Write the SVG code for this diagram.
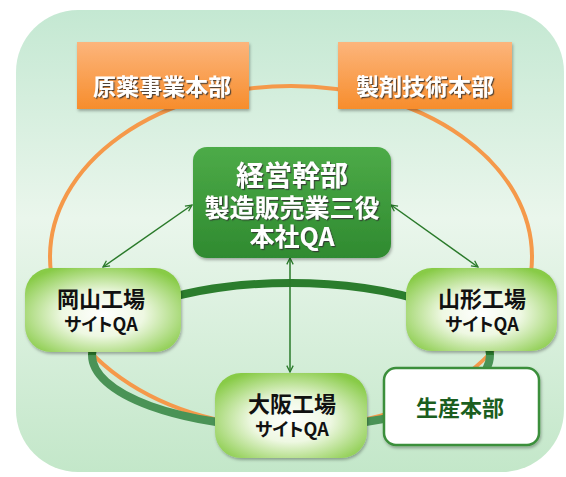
<svg xmlns="http://www.w3.org/2000/svg" width="566" height="477" viewBox="0 0 566 477">
<defs>
  <linearGradient id="bg" x1="0" y1="0" x2="0" y2="1">
    <stop offset="0" stop-color="#c4e8d2"/>
    <stop offset="0.45" stop-color="#eaf6ec"/>
    <stop offset="1" stop-color="#c3e7c9"/>
  </linearGradient>
  <linearGradient id="org" x1="0" y1="0" x2="0" y2="1">
    <stop offset="0" stop-color="#fcb57c"/>
    <stop offset="1" stop-color="#f78d2c"/>
  </linearGradient>
  <linearGradient id="grn" x1="0" y1="0" x2="0" y2="1">
    <stop offset="0" stop-color="#4dab48"/>
    <stop offset="1" stop-color="#2f8a30"/>
  </linearGradient>
  <radialGradient id="fac" cx="0.5" cy="0.55" r="0.62">
    <stop offset="0" stop-color="#ffffff"/>
    <stop offset="0.42" stop-color="#eef8e2"/>
    <stop offset="1" stop-color="#88cb47"/>
  </radialGradient>
  <filter id="sh" x="-10%" y="-10%" width="130%" height="140%">
    <feDropShadow dx="1" dy="2" stdDeviation="1.5" flood-color="#000" flood-opacity="0.3"/>
  </filter>
  <filter id="tsh" x="-10%" y="-20%" width="130%" height="150%">
    <feDropShadow dx="1.2" dy="1.2" stdDeviation="0.6" flood-color="#333" flood-opacity="0.85"/>
  </filter>
  <marker id="ah" viewBox="0 0 10 10" refX="9" refY="5" markerWidth="8" markerHeight="8" markerUnits="userSpaceOnUse" orient="auto-start-reverse">
    <path d="M1,1 L9,5 L1,9" fill="none" stroke="#2a7a2a" stroke-width="1.6"/>
  </marker>
  <style>
    text { font-family: "Noto Sans CJK JP", "Noto Sans", sans-serif; font-weight: bold; text-anchor: middle; font-feature-settings: "palt"; }
    .ot { fill: #fff; font-size: 23px; filter: url(#tsh); }
    .ct { fill: #fff; filter: url(#tsh); }
    .ft { fill: #111; font-size: 22px; }
    .fs { fill: #111; font-size: 18px; }
    .arr { stroke: #2a7a2a; stroke-width: 1.5; fill: none; marker-start: url(#ah); marker-end: url(#ah); }
  </style>
</defs>

<rect id="background" x="16" y="10" width="548" height="462" rx="62" fill="url(#bg)"/>

<g id="connectors">
  <ellipse cx="291" cy="257" rx="241" ry="171" fill="none" stroke="#f5994a" stroke-width="4"/>
  <path d="M92,355 A199,72 0 0 1 490,355" fill="none" stroke="#2b7d2d" stroke-width="8"/>
  <path d="M92,355 A199,72 0 0 0 490,355" fill="none" stroke="#4a9356" stroke-width="8"/>
  <line class="arr" x1="192" y1="205" x2="103" y2="267"/>
  <line class="arr" x1="391" y1="205" x2="478" y2="267"/>
  <line class="arr" x1="290" y1="258" x2="290" y2="372"/>
</g>

<g id="genyaku">
  <rect x="77" y="42" width="172" height="67" fill="url(#org)" filter="url(#sh)"/>
  <text class="ot" x="162" y="95">原薬事業本部</text>
</g>
<g id="seizai">
  <rect x="338" y="42" width="174" height="67" fill="url(#org)" filter="url(#sh)"/>
  <text class="ot" x="425" y="95">製剤技術本部</text>
</g>
<g id="keiei">
  <rect x="193" y="147" width="198" height="111" rx="14" fill="url(#grn)" filter="url(#sh)"/>
  <text class="ct" x="292" y="186" font-size="28">経営幹部</text>
  <text class="ct" x="292" y="217" font-size="25">製造販売業三役</text>
  <text class="ct" x="292" y="246" font-size="25">本社QA</text>
</g>
<g id="okayama">
  <rect x="25" y="268" width="156" height="84" rx="26" fill="url(#fac)" filter="url(#sh)"/>
  <text class="ft" x="101" y="307">岡山工場</text>
  <text class="fs" x="101" y="331">サイトQA</text>
</g>
<g id="yamagata">
  <rect x="406" y="268" width="151" height="83" rx="26" fill="url(#fac)" filter="url(#sh)"/>
  <text class="ft" x="482" y="307">山形工場</text>
  <text class="fs" x="482" y="331">サイトQA</text>
</g>
<g id="osaka">
  <rect x="215" y="373" width="152" height="85" rx="26" fill="url(#fac)" filter="url(#sh)"/>
  <text class="ft" x="292" y="412">大阪工場</text>
  <text class="fs" x="292" y="436">サイトQA</text>
</g>
<g id="seisan">
  <rect x="384" y="368" width="155" height="77" rx="12" fill="#fff" stroke="#3b8f3b" stroke-width="2.5" filter="url(#sh)"/>
  <text class="ft" x="460" y="416" style="fill:#1b5e20">生産本部</text>
</g>
</svg>
